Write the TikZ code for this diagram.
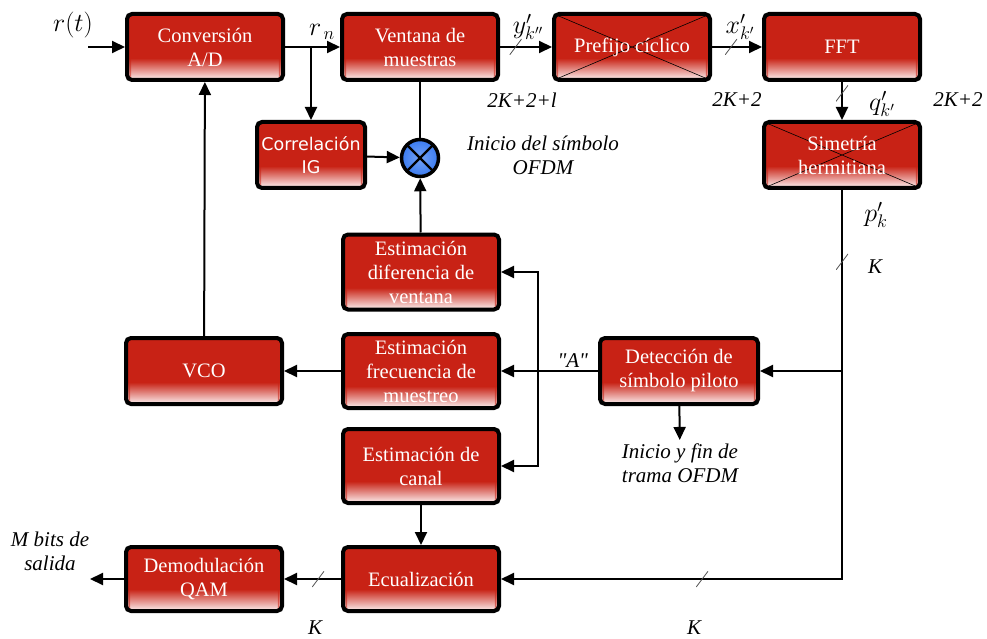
\RequirePackage{fix-cm}
\documentclass[tikz,border=0pt]{standalone}
\usepackage{fontspec}
\setmainfont{Liberation Serif}
\newfontfamily\corrfont{DejaVu Sans}
\newfontfamily\rawserif{Liberation Serif}
\usetikzlibrary{arrows.meta,calc}
\definecolor{BoxRed}{HTML}{C82215}
\definecolor{BoxFade}{HTML}{FBEAEA}
\definecolor{MulBlue}{HTML}{3A7BF0}
\definecolor{SlashGray}{HTML}{505050}

% bottom fade of the red blocks, drawn as thin bands
\newcommand{\blockfade}{%
  \foreach \i in {0,...,21}{%
    \pgfmathsetmacro{\p}{100*\i/21}%
    \fill[BoxRed!\p!BoxFade]
      ([yshift=\i pt]path picture bounding box.south west) rectangle
      ([yshift=\i pt+1.4pt]path picture bounding box.south east);}}

\begin{document}
\begin{tikzpicture}[
  x=1pt,y=-1pt,
  flow/.style={-{Triangle[length=13pt,width=12pt]},line width=2pt},
  wire/.style={line width=2pt},
  block/.style={draw=black,line width=4pt,rounded corners=5pt,fill=BoxRed,
    minimum width=156pt,minimum height=66pt,inner sep=1pt,align=center,
    text=white,font=\fontsize{20.5}{24}\selectfont,
    path picture={\blockfade}},
  crossed/.style={block,
    path picture={\blockfade
      \draw[-,black,line width=0.6pt]
        (path picture bounding box.north west) -- (path picture bounding box.south east)
        (path picture bounding box.north east) -- (path picture bounding box.south west);}},
  mixer/.style={circle,draw=black,line width=3.5pt,minimum size=37pt,inner sep=0pt,
    inner color=MulBlue!70!white,outer color=MulBlue,
    path picture={\draw[-,black,line width=2.2pt]
      (path picture bounding box.north west) -- (path picture bounding box.south east)
      (path picture bounding box.north east) -- (path picture bounding box.south west);}},
  slashmark/.style={inner sep=0pt,minimum width=12pt,minimum height=16pt,
    path picture={\draw[-,SlashGray,line width=0.8pt]
      (path picture bounding box.south west) -- (path picture bounding box.north east);}},
  lbl/.style={font=\fontsize{21}{24}\selectfont\itshape,align=center},
  sym/.style={font=\fontsize{26}{28}\selectfont}
]
\useasboundingbox (0,0) rectangle (987,639);

% top chain
\node[block] (conv) at (205,47) {Conversión\\A/D};
\node[block] (ventana) at (420,47) {Ventana de\\muestras};
\node[crossed] (prefijo) at (632,47) {Prefijo cíclico};
\node[block] (fft) at (842,47) {FFT};
\node[crossed] (simetria) at (842,155) {Simetría\\hermitiana};
\node[block,minimum width=108pt,font=\corrfont\fontsize{17.5}{23}\selectfont]
  (correl) at (311,155) {Correlación\\IG};
\node[mixer] (mult) at (420,158) {};

% estimators and back end
\node[block,minimum height=75pt] (estdif) at (421,272)
  {Estimación\\diferencia de\\ventana};
\node[block,minimum height=74pt] (estfrec) at (421,371)
  {Estimación\\frecuencia de\\muestreo};
\node[block,minimum height=74pt] (estcan) at (421,466)
  {Estimación de\\canal};
\node[block] (vco) at (204,371) {VCO};
\node[block,minimum width=158pt] (detec) at (679,371)
  {Detección de\\símbolo piloto};
\node[block,minimum height=64pt] (ecual) at (421,579) {Ecualización};
\node[block,minimum height=64pt] (demod) at (204,579) {Demodulación\\QAM};

% labels
\node[sym] (rt) at (73,25) {$r(t)$};
\node[sym] (rn) at (322,32) {$r_{\,n}$};
\node[sym] (yk) at (528,27) {$y'_{k''}$};
\node[sym] (xk) at (740,27) {$x'_{k'}$};
\node[sym] (qk) at (882,104) {$q'_{k'}$};
\node[sym] (pk) at (876,215) {$p'_{k}$};
\node[lbl] (len1) at (522,100) {2K+2+l};
\node[lbl] (len2) at (737,100) {2K+2};
\node[lbl] (len3) at (958,100) {2K+2};
\node[lbl] (inicio) at (543,155) {Inicio del símbolo\\OFDM};
\node[lbl] (k1) at (875,267) {K};
\node[lbl] (trama) at (680,463) {Inicio y fin de\\trama OFDM};
\node[lbl] (mbits) at (50,551) {M bits de\\salida};
\node[lbl] (k2) at (315,628) {K};
\node[lbl] (k3) at (694,628) {K};

\coordinate (in) at (88,47);
\coordinate (out) at (90,579);
\coordinate (bus) at (538,371);

% connectors
\draw[flow] (in) -- (conv);
\draw[flow] (conv) -- (ventana);
\draw[flow] (correl |- conv.east) -- (correl);
\draw[flow] (ventana) -- node[slashmark,pos=0.3] (s1) {} (prefijo);
\draw[flow] (prefijo) -- node[slashmark,pos=0.38] (s2) {} (fft);
\draw[flow] (fft) -- node[slashmark,pos=0.3] (s3) {} (simetria);
\draw[wire] (ventana) -- (mult);
\draw[flow] (correl) -- (mult);
\draw[flow] (estdif) -- (mult);
\draw[flow] (vco) -- (conv);
\draw[flow] (detec) -- node[lbl,above=-1pt,pos=0.26] (alab) {\rawserif\itshape "A"} (estfrec);
\draw[flow] (bus) |- (estdif);
\draw[flow] (bus) |- (estcan);
\draw[flow] (estfrec) -- (vco);
\draw[flow] (detec) -- (trama);
\draw[flow] (estcan) -- (ecual);
\draw[flow] (simetria) -- node[slashmark,pos=0.185] (s4) {} (simetria |- ecual)
  -- node[slashmark,pos=0.41] (s5) {} (ecual);
\draw[flow] (simetria |- detec) -- (detec);
\draw[flow] (ecual) -- node[slashmark,pos=0.4] (s6) {} (demod);
\draw[flow] (demod) -- (out);

\end{tikzpicture}
\end{document}
